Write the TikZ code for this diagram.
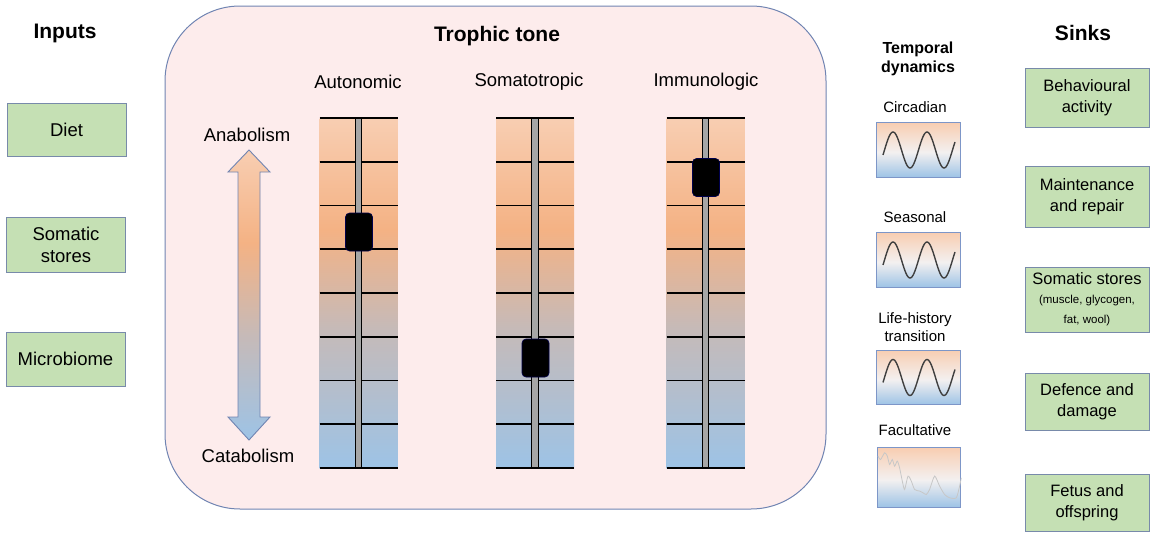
\documentclass[tikz,border=0pt]{standalone}
\usepackage{fontspec}
\setmainfont{Liberation Sans}
\definecolor{pinkbg}{RGB}{253,236,236}
\definecolor{boxborder}{RGB}{112,132,178}
\definecolor{greenbox}{RGB}{197,224,180}
\definecolor{greenborder}{RGB}{120,138,170}
\definecolor{peach}{RGB}{248,206,178}
\definecolor{orng}{RGB}{244,178,132}
\definecolor{greyc}{RGB}{198,186,184}
\definecolor{bluec}{RGB}{157,195,230}
\definecolor{whitec}{RGB}{243,240,240}
\definecolor{rodgrey}{RGB}{166,166,166}
\definecolor{tempborder}{RGB}{125,150,200}
\pgfdeclareverticalshading{colgrad}{100bp}{color(0bp)=(bluec); color(25bp)=(bluec); color(45bp)=(greyc); color(59bp)=(orng); color(75bp)=(peach); color(100bp)=(peach)}
\pgfdeclareverticalshading{arrgrad}{100bp}{color(0bp)=(bluec); color(25bp)=(bluec); color(43bp)=(greyc); color(59bp)=(orng); color(75bp)=(peach); color(100bp)=(peach)}
\pgfdeclareverticalshading{tempgrad}{100bp}{color(0bp)=(bluec); color(25bp)=(bluec); color(48bp)=(whitec); color(75bp)=(peach); color(100bp)=(peach)}
\newcommand{\trophcol}[3]{%
  \shade[shading=colgrad] (#1-39,118) rectangle (#1+39,468);
  \foreach \i in {0,...,8} \draw[gridline] (#1-39,118+43.75*\i) -- (#1+39,118+43.75*\i);
  \draw[rod] (#1-3.3,118) rectangle (#1+3.3,468);
  \node[slider] (#3) at (#1+0.5,#2) {};
}
\newcommand{\tempbox}[3]{%
  \node[tempbox] (#3) at (918.5,#1) {};
  \shade[shading=tempgrad] (#3.south west) rectangle (#3.north east);
  \draw[draw=tempborder, line width=0.9pt] (#3.south west) rectangle (#3.north east);
  \ifx#2w\draw[wave] plot[domain=0:72, samples=80] ({883+\x},{#1-18*sin((\x-10)/34*360+90)});\fi
}
\begin{document}
\begin{tikzpicture}[x=1pt,y=-1pt,
  hdr/.style={font=\fontsize{21}{24}\selectfont\bfseries},
  hdrsm/.style={font=\fontsize{16}{19}\selectfont\bfseries, align=center},
  lbl/.style={font=\fontsize{18.5}{22}\selectfont},
  lblsm/.style={font=\fontsize{15}{18}\selectfont, align=center},
  inbox/.style={draw=greenborder, fill=greenbox, line width=0.9pt, minimum width=119pt, inner sep=0pt, align=center, font=\fontsize{18.5}{22}\selectfont},
  sinkbox/.style={draw=greenborder, fill=greenbox, line width=0.9pt, minimum width=124pt, inner sep=0pt, align=center, font=\fontsize{16.5}{20.5}\selectfont},
  gridline/.style={draw=black, line width=1.6pt},
  rod/.style={draw=black, fill=rodgrey, line width=1.1pt},
  slider/.style={draw=black!70!blue, fill=black, rounded corners=4pt, minimum width=27pt, minimum height=38pt, inner sep=0pt, line width=0.6pt},
  tempbox/.style={minimum width=83pt, minimum height=54pt, inner sep=0pt},
  wave/.style={draw=black!75, line width=1.4pt}
]
\useasboundingbox (0,0) rectangle (1157,538);
% big rounded box
\node[draw=boxborder, fill=pinkbg, line width=1pt, rounded corners=75pt, minimum width=661pt, minimum height=503pt, inner sep=0pt] (tone) at (495.5,257.5) {};
\node[hdr] (trophic) at (497,36) {Trophic tone};
% headers
\node[hdr] (inputs) at (65,33) {Inputs};
\node[hdr] (sinks) at (1083,33) {Sinks};
\node[hdrsm] (temporal) at (918,59) {Temporal\\dynamics};
% inputs
\node[inbox, minimum height=53pt] (diet) at (66.5,129.5) {Diet};
\node[inbox, minimum height=55pt] (somin) at (66,244.5) {Somatic\\stores};
\node[inbox, minimum height=54pt] (micro) at (65.5,359) {Microbiome};
% sinks
\node[sinkbox, minimum height=59pt] (behav) at (1087,97.5) {Behavioural\\activity};
\node[sinkbox, minimum height=61pt] (maint) at (1087,196.5) {Maintenance\\and repair};
\node[sinkbox, minimum height=65pt] (somout) at (1087,299.5) {Somatic stores\\[-2pt]\fontsize{11.5}{18}\selectfont (muscle, glycogen,\\\fontsize{11.5}{18}\selectfont fat, wool)};
\node[sinkbox, minimum height=57pt] (defence) at (1087,401.5) {Defence and\\damage};
\node[sinkbox, minimum height=57pt] (fetus) at (1087,502.5) {Fetus and\\offspring};
% double arrow
\shade[shading=arrgrad] (249,150) -- (270,172) -- (260,172) -- (260,417) -- (270,417) -- (249,440) -- (228,417) -- (238,417) -- (238,172) -- (228,172) -- cycle;
\draw[draw=boxborder, line width=0.9pt] (249,150) -- (270,172) -- (260,172) -- (260,417) -- (270,417) -- (249,440) -- (228,417) -- (238,417) -- (238,172) -- (228,172) -- cycle;
\node[lbl] (anab) at (247,135) {Anabolism};
\node[lbl] (catab) at (248,456) {Catabolism};
% columns
\node[lbl] (auto) at (358,82) {Autonomic};
\node[lbl] (soma) at (529,82) {Somatotropic};
\node[lbl] (immu) at (706,82) {Immunologic};
\trophcol{358.5}{232}{sauto}
\trophcol{535}{358}{ssoma}
\trophcol{705.5}{177.5}{simmu}
% temporal dynamics
\node[lblsm] (circ) at (915,107) {Circadian};
\tempbox{150}{w}{bcirc}
\node[lblsm] (seas) at (915,217) {Seasonal};
\tempbox{260}{w}{bseas}
\node[lblsm] (life) at (915,327) {Life-history\\transition};
\tempbox{377.5}{w}{blife}
\node[lblsm] (facu) at (915,430) {Facultative};
\node[tempbox, minimum height=59pt] (bfacu) at (919,477.5) {};
\shade[shading=tempgrad] (bfacu.south west) rectangle (bfacu.north east);
\draw[draw=tempborder, line width=0.9pt] (bfacu.south west) rectangle (bfacu.north east);
\begin{scope}[shift={(bfacu.north west)}]
\draw[draw=black!22, line width=0.8pt] plot[smooth, tension=0.4] coordinates {(0.7,8.3) (3.3,11.7) (7.3,5) (10,8.3) (12.3,16.7) (15,11.7) (17.3,18.3) (20,13.3) (22.3,20) (25,33.3) (27.3,41.7) (30.7,28.3) (34,33.3) (37.3,41.7) (42.3,43.3) (45.7,45) (49,46.7) (52.3,41.7) (57.3,28.3) (62.3,38.3) (67.3,46.7) (72.3,50) (79,50) (82.3,38.3) (84,30)};
\end{scope}
\end{tikzpicture}
\end{document}
